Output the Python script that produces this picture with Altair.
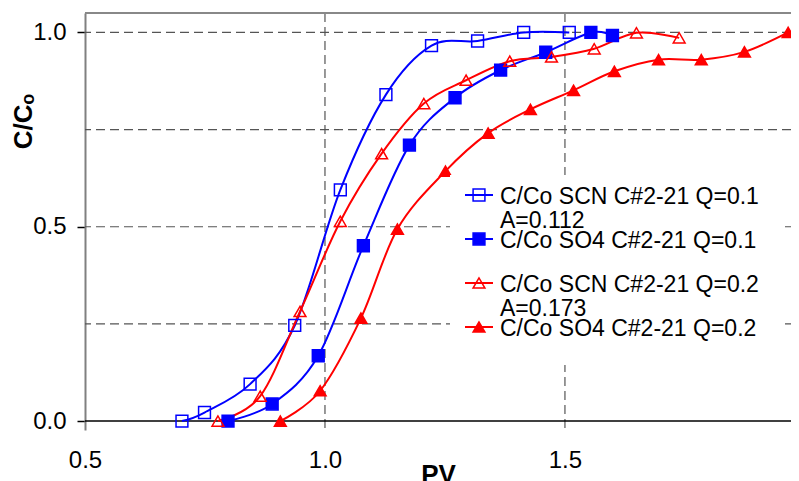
import altair as alt
import pandas as pd

# ---------------- data ----------------
SERIES = [
    "C/Co SCN C#2-21 Q=0.1 A=0.112",
    "C/Co SO4 C#2-21 Q=0.1",
    "C/Co SCN C#2-21 Q=0.2 A=0.173",
    "C/Co SO4 C#2-21 Q=0.2",
]
LEGEND_LINE1 = ["C/Co SCN C#2-21 Q=0.1", "C/Co SO4 C#2-21 Q=0.1",
                "C/Co SCN C#2-21 Q=0.2", "C/Co SO4 C#2-21 Q=0.2"]
LEGEND_LINE2 = ["A=0.112", "", "A=0.173", ""]

pv_scn_q01 = [0.702, 0.749, 0.844, 0.937, 1.032, 1.127, 1.222, 1.318, 1.414, 1.509]
c_scn_q01 = [0.0, 0.022, 0.095, 0.246, 0.595, 0.840, 0.966, 0.978, 1.0, 1.0]

pv_so4_q01 = [0.798, 0.890, 0.986, 1.080, 1.176, 1.271, 1.366, 1.460, 1.554, 1.599]
c_so4_q01 = [0.0, 0.044, 0.168, 0.451, 0.710, 0.832, 0.903, 0.949, 1.0, 0.992]

pv_scn_q02 = [0.777, 0.865, 0.948, 1.032, 1.118, 1.206, 1.294, 1.385, 1.472, 1.561, 1.649, 1.738]
c_scn_q02 = [0.0, 0.064, 0.282, 0.514, 0.688, 0.817, 0.877, 0.926, 0.937, 0.958, 0.999, 0.986]

pv_so4_q02 = [0.907, 0.990, 1.075, 1.151, 1.251, 1.340, 1.428, 1.518, 1.603, 1.695, 1.784, 1.874, 1.965]
c_so4_q02 = [0.0, 0.078, 0.265, 0.494, 0.643, 0.741, 0.802, 0.851, 0.900, 0.930, 0.930, 0.950, 1.0]

X_TICKS = [0.5, 1.0, 1.5]
Y_TICKS = [0.0, 0.5, 1.0]
X_GRID = [1.0, 1.5]
Y_GRID = [0.25, 0.5, 0.75, 1.0]
BASELINE = [0.0]
X_DOMAIN = [0.5, 1.971]
Y_DOMAIN = [-0.023, 1.05]

# ---------------- styles ----------------
STROKES = ["#0000FF", "#0000FF", "#FF0000", "#FF0000"]
FILLS = ["transparent", "#0000FF", "transparent", "#FF0000"]
SHAPES = ["square", "square", "triangle-up", "triangle-up"]
FONT = "Liberation Sans"

frames = []
for name, xs_, ys_ in zip(SERIES,
                          [pv_scn_q01, pv_so4_q01, pv_scn_q02, pv_so4_q02],
                          [c_scn_q01, c_so4_q01, c_scn_q02, c_so4_q02]):
    frames.append(pd.DataFrame({"series": name, "pv": xs_, "c": ys_, "i": range(len(xs_))}))
df = pd.concat(frames, ignore_index=True)

legend_df = pd.DataFrame({"series": SERIES, "line1": LEGEND_LINE1, "line2": LEGEND_LINE2})

xs = alt.Scale(domain=X_DOMAIN, nice=False, zero=False)
ys = alt.Scale(domain=Y_DOMAIN, nice=False, zero=False)
stroke_scale = alt.Scale(domain=SERIES, range=STROKES)
fill_scale = alt.Scale(domain=SERIES, range=FILLS)
shape_scale = alt.Scale(domain=SERIES, range=SHAPES)

x_axis = alt.Axis(values=X_TICKS, format=".1f", grid=False, domain=False, ticks=False,
                  tickSize=0, labelFontSize=24, labelPadding=18, labelColor="black",
                  labelFont=FONT, labelFlush=False, title="PV", titleFont=FONT,
                  titleFontSize=26, titleFontWeight="bold", titleColor="black",
                  titleY=31, titleBaseline="top")
y_axis = alt.Axis(values=Y_TICKS, format=".1f", grid=False, domainColor="#808080",
                  domainWidth=2, tickColor="black", tickSize=8, tickWidth=1.5,
                  labelFontSize=24, labelPadding=11, labelColor="black", labelFont=FONT,
                  title="C/C\u2092", titleFont=FONT, titleFontSize=26, titleFontWeight="bold",
                  titleColor="black", titleAngle=270, titleX=-62, titleY=108,
                  titleAlign="center", titleBaseline="middle")

grid_y = alt.Chart(pd.DataFrame({"y": Y_GRID})).mark_rule(
    color="#555555", strokeDash=[9, 5], strokeWidth=1.2
).encode(y=alt.Y("y:Q", scale=ys, axis=None))

grid_x = alt.Chart(pd.DataFrame({"x": X_GRID})).mark_rule(
    color="#555555", strokeDash=[9, 5], strokeWidth=1.2
).encode(x=alt.X("x:Q", scale=xs, axis=x_axis))

zero_line = alt.Chart(pd.DataFrame({"y": BASELINE})).mark_rule(
    color="black", strokeWidth=1.5
).encode(y=alt.Y("y:Q", scale=ys, axis=None))

top_line = alt.Chart(pd.DataFrame({"y": [Y_DOMAIN[1]]})).mark_rule(
    color="#888888", strokeWidth=2
).encode(y=alt.Y("y:Q", scale=ys, axis=None))

lines = alt.Chart(df).mark_line(interpolate="cardinal", tension=0, strokeWidth=2).encode(
    x=alt.X("pv:Q", scale=xs, axis=x_axis),
    y=alt.Y("c:Q", scale=ys, axis=y_axis),
    stroke=alt.Stroke("series:N", scale=stroke_scale, legend=None),
    detail="series:N",
    order="i:Q",
)

points = alt.Chart(df).mark_point(size=140, strokeWidth=1.5, opacity=1).encode(
    x=alt.X("pv:Q", scale=xs, axis=x_axis),
    y=alt.Y("c:Q", scale=ys, axis=None),
    stroke=alt.Stroke("series:N", scale=stroke_scale, legend=None),
    fill=alt.Fill("series:N", scale=fill_scale, legend=None),
    shape=alt.Shape("series:N", scale=shape_scale, legend=None),
)

# ---------------- legend ----------------
ly = alt.Y("series:N", scale=alt.Scale(type="point", domain=SERIES, range=[182, 314], padding=0),
           axis=None)

legend_box = alt.Chart(pd.DataFrame({"a": [0]})).mark_rect(color="white").encode(
    x=alt.value(365), x2=alt.value(700), y=alt.value(162), y2=alt.value(352)
)
leg_rule = alt.Chart(legend_df).mark_rule(strokeWidth=2).encode(
    x=alt.value(380), x2=alt.value(408), y=ly,
    stroke=alt.Stroke("series:N", scale=stroke_scale, legend=None),
)
leg_pt = alt.Chart(legend_df).mark_point(size=140, strokeWidth=1.5, opacity=1).encode(
    x=alt.value(394), y=ly,
    stroke=alt.Stroke("series:N", scale=stroke_scale, legend=None),
    fill=alt.Fill("series:N", scale=fill_scale, legend=None),
    shape=alt.Shape("series:N", scale=shape_scale, legend=None),
)
leg_t1 = alt.Chart(legend_df).mark_text(
    align="left", baseline="middle", fontSize=23, font=FONT, color="black", dy=2
).encode(x=alt.value(415), y=ly, text="line1:N")
leg_t2 = alt.Chart(legend_df).mark_text(
    align="left", baseline="middle", fontSize=23, font=FONT, color="black", dy=26
).encode(x=alt.value(415), y=ly, text="line2:N")

chart = alt.layer(
    grid_y, grid_x, zero_line, top_line, lines, points,
    legend_box, leg_rule, leg_pt, leg_t1, leg_t2
).resolve_scale(y="independent").properties(
    width=706, height=417,
    padding={"left": 77, "top": 5, "right": 0, "bottom": 60},
    autosize=alt.AutoSizeParams(type="none"),
    background="white",
).configure_view(stroke=None)

chart.save("out.html", embed_options={"renderer": "svg", "actions": False})
